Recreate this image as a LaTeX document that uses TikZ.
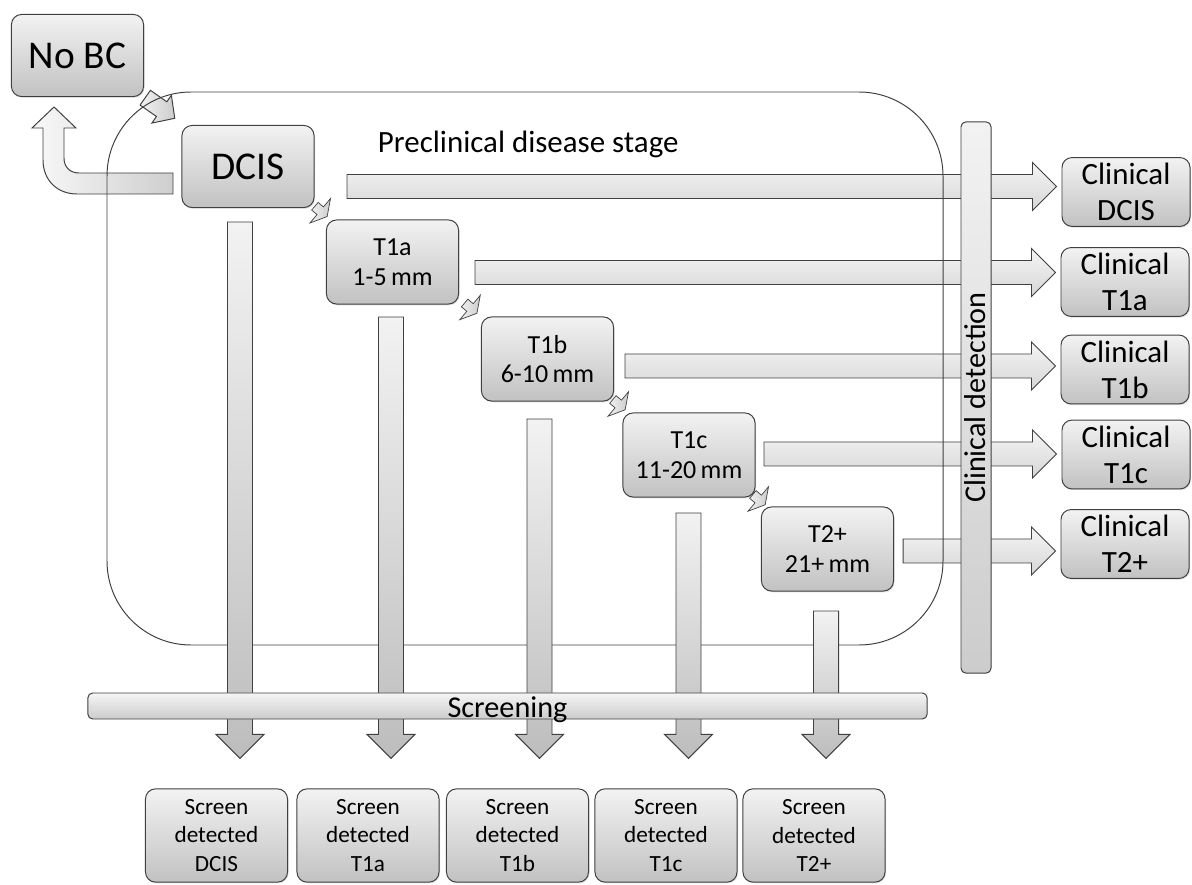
\documentclass[tikz,border=0pt]{standalone}
\usepackage{fontspec}
\setmainfont{Carlito}
\usetikzlibrary{calc,shadows}

% block arrow to the right: tail coordinate, target node
\newcommand{\harrow}[2]{%
  \path[flowline, top color=gray!8, bottom color=gray!32]
    ($(#1)+(0,-12)$) -- ($(#1 -| #2.west)+(-29,-12)$) -- ($(#1 -| #2.west)+(-29,-24)$)
    -- ($(#1 -| #2.west)+(-5,0)$) -- ($(#1 -| #2.west)+(-29,24)$)
    -- ($(#1 -| #2.west)+(-29,12)$) -- ($(#1)+(0,12)$) -- cycle;}
% block arrow downwards: tail coordinate, target node
\newcommand{\varrow}[2]{%
  \path[flowline, top color=gray!10, bottom color=gray!52]
    ($(#1)+(-12.5,0)$) -- ($(#1 |- #2.north)+(-12.5,-54)$) -- ($(#1 |- #2.north)+(-24,-54)$)
    -- ($(#1 |- #2.north)+(0,-30)$) -- ($(#1 |- #2.north)+(24,-54)$)
    -- ($(#1 |- #2.north)+(12.5,-54)$) -- ($(#1)+(12.5,0)$) -- cycle;}
% small step arrow between two stage boxes
\newcommand{\stagestep}[2]{%
  \begin{scope}[shift={($(#1.south east)!0.5!(#2.north west)+(0,-3)$)}, rotate=-40]
    \path[flowline, line width=0.5pt, left color=gray!10, right color=gray!40]
      (-7,-5) -- (0,-5) -- (0,-16) -- (9,0) -- (0,16) -- (0,5) -- (-7,5) -- cycle;
  \end{scope}}

\begin{document}
\begin{tikzpicture}[x=0.025cm, y=-0.025cm,
    flowline/.style={draw=black!75, line width=0.7pt},
    stbox/.style={flowline, rounded corners=0.25cm, top color=gray!10, bottom color=gray!48,
      drop shadow={opacity=0.25, shadow xshift=0.7pt, shadow yshift=-0.9pt},
      align=center, inner sep=0pt},
    bigbox/.style={stbox, minimum width=3.3cm, minimum height=2.05cm, font=\fontsize{28}{32}\selectfont},
    stagebox/.style={stbox, minimum width=3.3cm, minimum height=2.1cm, font=\fontsize{18.5}{21}\selectfont},
    clinbox/.style={stbox, minimum width=3.2cm, minimum height=1.72cm, font=\fontsize{22}{25.5}\selectfont},
    scrbox/.style={stbox, minimum width=3.55cm, minimum height=2.33cm, font=\fontsize{16.5}{20}\selectfont},
    barbox/.style={flowline, rounded corners=0.12cm, inner sep=0pt, text depth=0pt,
      font=\fontsize{21.5}{24}\selectfont}]

    \useasboundingbox (0,0) rectangle (1192,885);

    % 1. Cajas de estadios
    \node[bigbox] (nobc) at (77.5,55.5) {No BC};
    \node[bigbox] (dcis) at (248,166.5) {DCIS};
    \node[stagebox] (t1a) at (392.5,262) {T1a\\1-5\,mm};
    \node[stagebox] (t1b) at (547.5,359) {T1b\\6-10\,mm};
    \node[stagebox] (t1c) at (689,455) {T1c\\11-20\,mm};
    \node[stagebox] (t2) at (827.5,549) {T2+\\21+\,mm};

    % 2. Cajas clinicas (derecha)
    \node[clinbox] (cdcis) at (1126,192) {Clinical\\DCIS};
    \node[clinbox] (ct1a) at (1125,282) {Clinical\\T1a};
    \node[clinbox] (ct1b) at (1125,369.5) {Clinical\\T1b};
    \node[clinbox] (ct1c) at (1126,454.5) {Clinical\\T1c};
    \node[clinbox] (ct2) at (1125,544) {Clinical\\T2+};

    % 3. Cajas de cribado (abajo)
    \node[scrbox] (sdcis) at (216.5,835.5) {Screen\\detected\\DCIS};
    \node[scrbox] (st1a) at (368,835.5) {Screen\\detected\\T1a};
    \node[scrbox] (st1b) at (517.5,835.5) {Screen\\detected\\T1b};
    \node[scrbox] (st1c) at (666,835.5) {Screen\\detected\\T1c};
    \node[scrbox] (st2) at (814,835.5) {Screen\\detected\\T2+};

    % 4. Flecha de vuelta a No BC y flecha de entrada
    \path[flowline, left color=gray!5, right color=gray!38]
      (173,173) -- (79,173) .. controls (70,173) and (64,167) .. (64,158) -- (64,128)
      -- (76,128) -- (54,107) -- (32,128) -- (43,128) -- (43,160)
      .. controls (43,180) and (57,194) .. (77,194) -- (173,194) -- cycle;
    \begin{scope}[shift={(160,108)}, rotate=-35]
      \path[flowline, left color=gray!10, right color=gray!40]
        (-18,-9) -- (2,-9) -- (2,-17) -- (18,0) -- (2,17) -- (2,9) -- (-18,9) -- cycle;
    \end{scope}

    % 5. Flechas de deteccion clinica
    \coordinate (hdcis) at (347,186.5);
    \coordinate (ht1a) at (475,272.5);
    \coordinate (ht1b) at (625,366);
    \coordinate (ht1c) at (764,454);
    \coordinate (ht2) at (903,551);
    \harrow{hdcis}{cdcis}
    \harrow{ht1a}{ct1a}
    \harrow{ht1b}{ct1b}
    \harrow{ht1c}{ct1c}
    \harrow{ht2}{ct2}

    % 6. Zona preclinica
    \draw[flowline, rounded corners=2.1cm] (107,92) rectangle (943,645);
    \node[anchor=base west, font=\fontsize{22}{26}\selectfont] (pre) at (373,153) {Preclinical disease stage};

    % 7. Flechas de cribado
    \coordinate (vdcis) at (240,222);
    \coordinate (vt1a) at (391,317);
    \coordinate (vt1b) at (539.5,419);
    \coordinate (vt1c) at (688.5,513);
    \coordinate (vt2) at (826,611);
    \varrow{vdcis}{sdcis}
    \varrow{vt1a}{st1a}
    \varrow{vt1b}{st1b}
    \varrow{vt1c}{st1c}
    \varrow{vt2}{st2}

    % 8. Barras
    \node[barbox, text height=17pt, top color=gray!8, bottom color=gray!40, minimum width=20.975cm, minimum height=0.65cm]
      (scr) at (507.5,706) {Screening};
    \node[barbox, text height=13pt, rotate=90, top color=gray!10, bottom color=gray!40, minimum width=13.775cm, minimum height=0.75cm]
      (cdet) at (976,397.5) {Clinical detection};

    % 9. Pasos entre estadios
    \stagestep{dcis}{t1a}
    \stagestep{t1a}{t1b}
    \stagestep{t1b}{t1c}
    \stagestep{t1c}{t2}

\end{tikzpicture}
\end{document}
